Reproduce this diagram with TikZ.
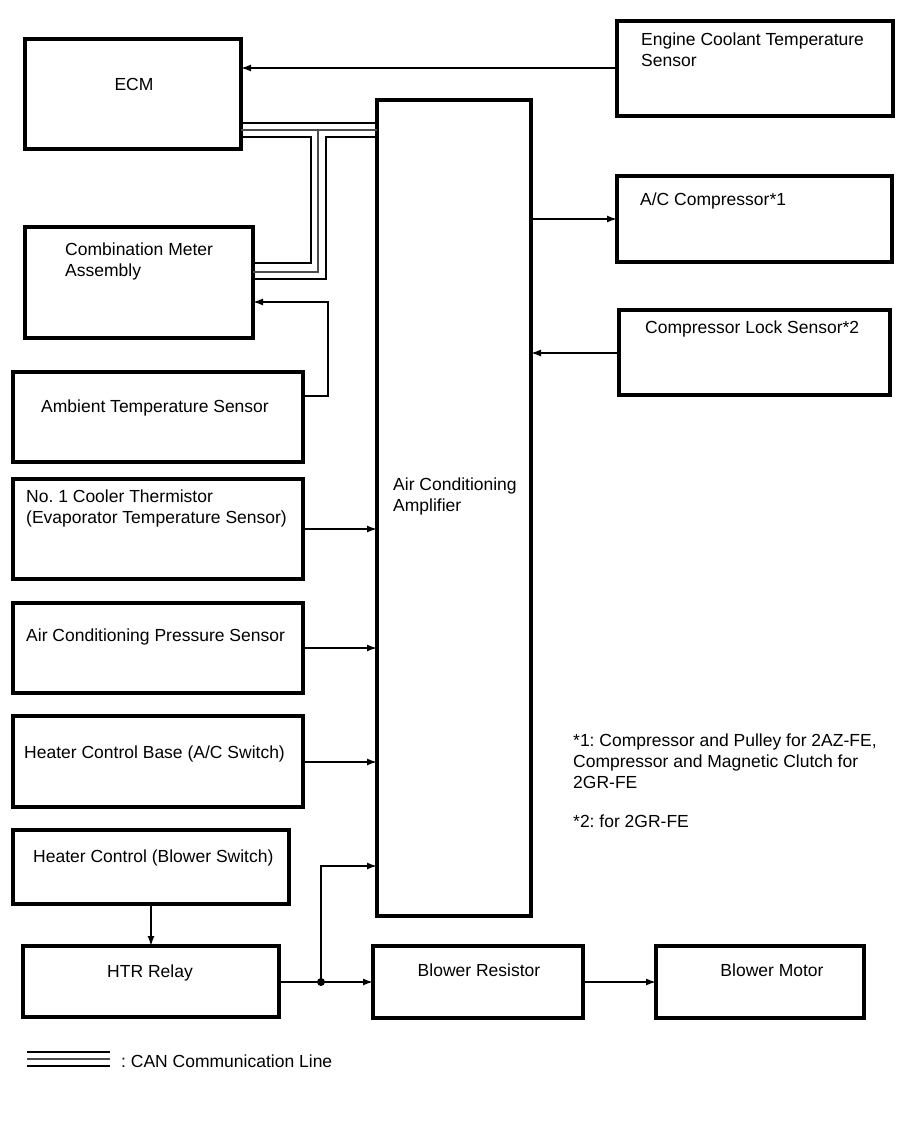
\documentclass[tikz,border=0pt]{standalone}
\usepackage{fontspec}
\setmainfont{Liberation Sans}
\usetikzlibrary{arrows.meta}
\frenchspacing
\begin{document}
\begin{tikzpicture}[x=1pt,y=-1pt,
  box/.style={draw,line width=3.2pt,rectangle,inner sep=0pt,outer sep=0pt,anchor=north west},
  txt/.style={inner sep=0pt,anchor=north west,align=left,font=\fontsize{17.5}{21}\selectfont},
  ctxt/.style={inner sep=0pt,anchor=base,font=\fontsize{17.5}{21}\selectfont},
  arr/.style={line width=1.6pt,-{Latex[length=10pt,width=7pt]}},
  can/.style={line width=2.8pt,line join=miter},
  canm/.style={line width=2.4pt,black!70,line join=miter}]
\useasboundingbox (0,0) rectangle (907,1122);
\fill[white] (0,0) rectangle (907,1122);

% boxes
\node[box,minimum width=216pt,minimum height=110pt] (ecm) at (25,39) {};
\node[box,minimum width=276pt,minimum height=95pt] (ect) at (617,21) {};
\node[box,minimum width=154pt,minimum height=816pt] (amp) at (377,100) {};
\node[box,minimum width=275pt,minimum height=86pt] (acc) at (617,176) {};
\node[box,minimum width=228pt,minimum height=111pt] (cms) at (25,227) {};
\node[box,minimum width=271pt,minimum height=85pt] (cls) at (619,310) {};
\node[box,minimum width=290pt,minimum height=90pt] (amb) at (13,372) {};
\node[box,minimum width=290pt,minimum height=100pt] (cool) at (13,479) {};
\node[box,minimum width=290pt,minimum height=90pt] (press) at (13,603) {};
\node[box,minimum width=290pt,minimum height=91pt] (hcb) at (13,716) {};
\node[box,minimum width=276pt,minimum height=74pt] (hcs) at (13,830) {};
\node[box,minimum width=256pt,minimum height=71pt] (htr) at (23,946) {};
\node[box,minimum width=210pt,minimum height=72pt] (br) at (373,946) {};
\node[box,minimum width=208pt,minimum height=72pt] (bm) at (656,946) {};

% texts
\node[ctxt] (ecmT) at (134,90) {ECM};
\node[txt] (ectT) at (641,33) {Engine Coolant Temperature\\Sensor};
\node[txt] (ampT) at (393,478) {Air Conditioning\\Amplifier};
\node[txt] (accT) at (640,193) {A/C Compressor*1};
\node[txt] (cmsT) at (65,243) {Combination Meter\\Assembly};
\node[txt] (clsT) at (645,321) {Compressor Lock Sensor*2};
\node[txt] (ambT) at (41,400) {Ambient Temperature Sensor};
\node[txt] (coolT) at (26,490) {No. 1 Cooler Thermistor\\(Evaporator Temperature Sensor)};
\node[txt] (pressT) at (26,629) {Air Conditioning Pressure Sensor};
\node[txt] (hcbT) at (24,746) {Heater Control Base (A/C Switch)};
\node[txt] (hcsT) at (33,850) {Heater Control (Blower Switch)};
\node[ctxt] (htrT) at (150,977) {HTR Relay};
\node[ctxt] (brT) at (479,976) {Blower Resistor};
\node[ctxt] (bmT) at (772,976) {Blower Motor};
\node[txt] (note1) at (573,734) {*1: Compressor and Pulley for 2AZ-FE,\\Compressor and Magnetic Clutch for\\2GR-FE};
\node[txt] (note2) at (573,815) {*2: for 2GR-FE};

% connectors
\draw[arr] (ect.west |- 0,68) -- (ecm.east |- 0,68);
\draw[arr] (amp.east |- 0,219) -- (acc.west |- 0,219);
\draw[arr] (cls.west |- 0,353) -- (amp.east |- 0,353);
\coordinate (ambc1) at (328,396);
\coordinate (ambc2) at (328,302);
\draw[arr] (amb.east |- ambc1) -- (ambc1) -- (ambc2) -- (cms.east |- ambc2);
\draw[arr] (cool.east |- 0,529) -- (amp.west |- 0,529);
\draw[arr] (press.east |- 0,648) -- (amp.west |- 0,648);
\draw[arr] (hcb.east |- 0,762) -- (amp.west |- 0,762);
\draw[arr] (hcs.south -| 151,0) -- (htr.north -| 151,0);
\coordinate (j) at (321,982);
\draw[arr] (htr.east |- j) -- (br.west |- j);
\draw[arr] (j) |- (amp.west |- 0,866);
\fill (j) circle (4pt);
\draw[arr] (br.east |- 0,982) -- (bm.west |- 0,982);

% CAN lines
\draw[can] (ecm.east |- 0,123) -- (amp.west |- 0,123);
\draw[canm] (ecm.east |- 0,130) -- (amp.west |- 0,130);
\draw[canm] (318,130) -- (318,272) -- (cms.east |- 0,272);
\draw[can] (ecm.east |- 0,137) -- (311,137) -- (311,263) -- (cms.east |- 0,263);
\draw[can] (amp.west |- 0,137) -- (326,137) -- (326,279) -- (cms.east |- 0,279);

% legend
\coordinate (lg1) at (27,1052);
\coordinate (lg2) at (110,1052);
\draw[can] (lg1) -- (lg2);
\draw[canm] ([yshift=-7pt]lg1) -- ([yshift=-7pt]lg2);
\draw[can] ([yshift=-14pt]lg1) -- ([yshift=-14pt]lg2);
\node[inner sep=0pt,anchor=base west,font=\fontsize{17.5}{21}\selectfont] (lgT) at (121,1067) {: CAN Communication Line};
\end{tikzpicture}
\end{document}
